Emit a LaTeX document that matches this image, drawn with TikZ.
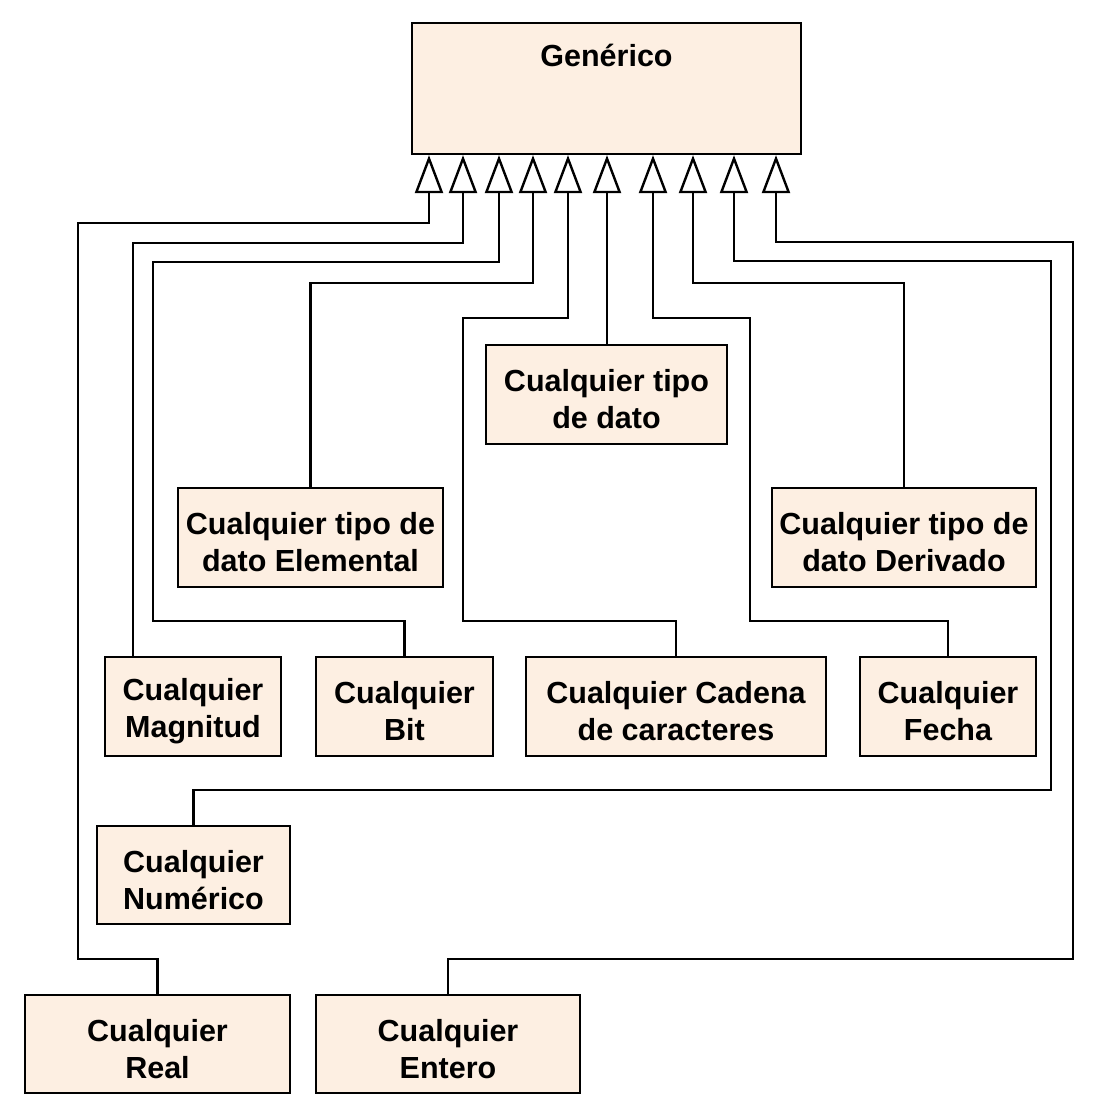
\documentclass[tikz,border=0pt]{standalone}
\usepackage{fontspec}
\setmainfont{Liberation Sans}
\usetikzlibrary{arrows.meta,calc}
\definecolor{peach}{RGB}{253,239,226}
\newcommand{\lift}{\rule{0pt}{32pt}}
\begin{document}
\begin{tikzpicture}[x=1pt,y=-1pt,
  box/.style={draw=black, fill=peach, line width=2.3pt, inner sep=0pt,
    align=center, minimum height=99pt,
    font=\fontsize{30.5}{37}\selectfont\bfseries},
  lbl/.style={inner sep=0pt, font=\fontsize{30.5}{37}\selectfont\bfseries},
  conn/.style={draw=black, line width=2.4pt,
    -{Triangle[open, length=38pt, width=28pt]}}]
\useasboundingbox (0,0) rectangle (1094,1119);
% boxes
\node[box, minimum width=389pt, minimum height=131pt] (gen) at (606.5,88.5) {};
\node[lbl, anchor=base] (gent) at (606.5,66) {Genérico};
\node[box, minimum width=241pt] (dato) at (606.5,394.5) {\lift Cualquier tipo\\de dato};
\node[box, minimum width=265pt] (elem) at (310.5,537.5) {\lift Cualquier tipo de\\dato Elemental};
\node[box, minimum width=264pt] (deriv) at (904,537.5) {\lift Cualquier tipo de\\dato Derivado};
\node[box, minimum width=176pt] (mag) at (193,706.5) {\lift Cualquier\\Magnitud};
\node[box, minimum width=177pt] (bit) at (404.5,706.5) {\lift Cualquier\\Bit};
\node[box, minimum width=300pt] (cad) at (676,706.5) {\lift Cualquier Cadena\\de caracteres};
\node[box, minimum width=176pt] (fecha) at (948,706.5) {\lift Cualquier\\Fecha};
\node[box, minimum width=193pt, minimum height=98pt] (num) at (193.5,875) {\lift Cualquier\\Numérico};
\node[box, minimum width=265pt, minimum height=98pt] (real) at (157.5,1044) {\lift Cualquier\\Real};
\node[box, minimum width=264pt, minimum height=98pt] (ent) at (448,1044) {\lift Cualquier\\Entero};
% arrow tips on the bottom of Genérico
\coordinate (t1) at (gen.south -| 429,0);
\coordinate (t2) at (gen.south -| 463,0);
\coordinate (t3) at (gen.south -| 499,0);
\coordinate (t4) at (gen.south -| 533,0);
\coordinate (t5) at (gen.south -| 568,0);
\coordinate (t6) at (gen.south -| 607,0);
\coordinate (t7) at (gen.south -| 653,0);
\coordinate (t8) at (gen.south -| 693,0);
\coordinate (t9) at (gen.south -| 734,0);
\coordinate (t10) at (gen.south -| 776,0);
% connectors
\draw[conn] (real.north) -- ++(0,-35) -| (78,223) -| (t1);
\draw[conn] ([xshift=-60pt]mag.north) |- ($(t2)+(0,88)$) -- (t2);
\draw[conn] (bit.north) -- ++(0,-35) -| (153,262) -| (t3);
\draw[conn] (elem.north) |- ($(t4)+(0,128)$) -- (t4);
\draw[conn] (cad.north) -- ++(0,-35) -| (463,318) -| (t5);
\draw[conn] (dato.north -| t6) -- (t6);
\draw[conn] (fecha.north) -- ++(0,-35) -| (750,318) -| (t7);
\draw[conn] (deriv.north) |- ($(t8)+(0,128)$) -- (t8);
\draw[conn] (num.north) -- ++(0,-35) -| (1051,261) -| (t9);
\draw[conn] (ent.north) -- ++(0,-35) -| (1073,242) -| (t10);
\end{tikzpicture}
\end{document}
